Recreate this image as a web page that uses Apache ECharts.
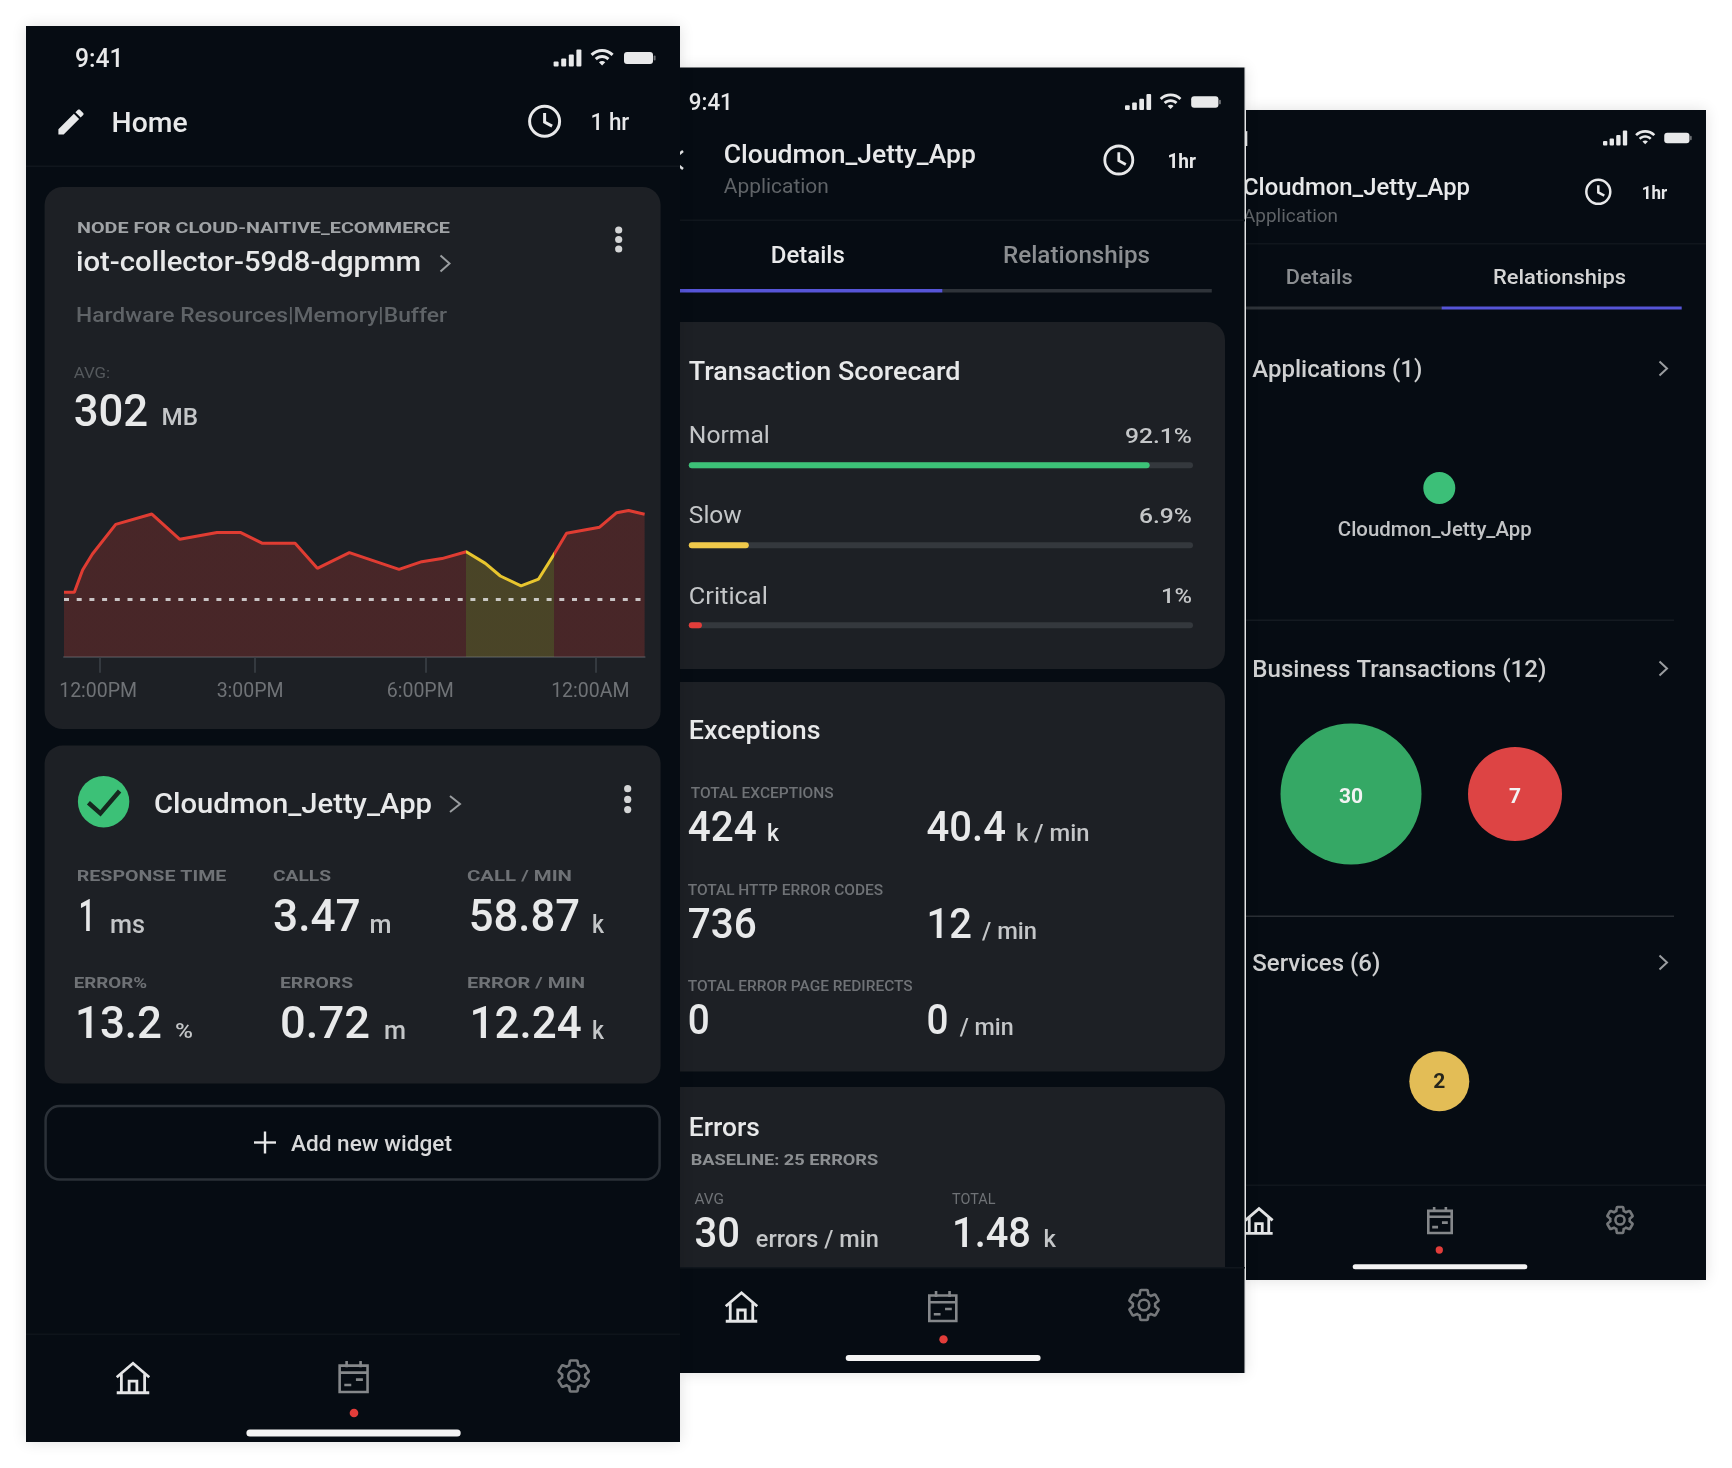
<!DOCTYPE html>
<html>
<head>
<meta charset="utf-8">
<title>Cloudmon mobile screens</title>
<script src="https://cdn.jsdelivr.net/npm/echarts@6/dist/echarts.min.js"></script>
<style>
  html, body { margin: 0; padding: 0; background: #fff; }
  #main { width: 1732px; height: 1468px; filter: blur(0.6px); }
</style>
</head>
<body>
<div id="main"></div>
<script>
// memory line, x is in axis hours
const memoryHours = [11.31, 11.51, 11.67, 11.86, 12.31, 13.01, 13.55, 14.27, 14.73, 15.15, 15.78, 16.21, 16.83, 17.79, 18.23, 18.62, 19.09, 19.46, 19.75, 20.15, 20.49, 20.78, 21.03, 21.67, 22.0, 22.23, 22.54];
const memoryValues = [337, 337, 453, 537, 692, 746, 614, 649, 649, 593, 593, 462, 544, 457, 497, 513, 549, 488, 422, 370, 406, 532, 645, 677, 753, 764, 745];
const memoryAvg = 302;
const slowFrom = 19.09;
const slowTo = 20.78;
const xTickHours = [12, 15, 18.3, 21.6];
const xLabelHours = [11.97, 14.91, 18.2, 21.49];
const xTickLabels = ['12:00PM', '3:00PM', '6:00PM', '12:00AM'];

// transaction scorecard
const scoreNames = ['Normal', 'Slow', 'Critical'];
const scoreTexts = ['92.1%', '6.9%', '1%'];
const scoreFill = [91.4, 11.9, 2.6];

// relationship bubbles
const appNames = ['Cloudmon_Jetty_App'];
const appCounts = [1];
const bizNames = ['Normal', 'Critical'];
const bizCounts = [30, 7];
const serviceNames = ['Slow'];
const serviceCounts = [2];

const GREEN = '#3cc177', YELLOW = '#f0c94a', RED = '#e23d3a';
const bubbleDiameter = { 1: 32, 2: 60, 7: 94, 30: 141 };
const bubbleColor = { 1: '#3cbf78', 2: '#e3bd56', 7: '#dd4444', 30: '#35a865' };

const BG = '#060c13', CARD = '#1d2025', WHITE = '#e8e9ea', SOFT = '#c4c6c8', DIM = '#5f6367', LABEL = '#6f7276';

const measure = document.createElement('canvas').getContext('2d');

// text, optionally squeezed to the width
function T(text, x, y, size, color, weight, w, align) {
    weight = weight || 400;
    const font = weight + ' ' + size + 'px Roboto';
    measure.font = font;
    const sx = w ? w / measure.measureText(text).width : 1;
    return {
        type: 'text', x: x, y: y + size * 0.1 + 0.5, scaleX: sx,
        style: { text: text, font: font, fill: color || WHITE, textAlign: align || 'left', textVerticalAlign: 'middle' }
    };
}
function R(x, y, w, h, fill, r) {
    return { type: 'rect', shape: { x: x, y: y, width: w, height: h, r: r || 0 }, style: { fill: fill } };
}
function chev(x1, x2, cy, h, color) {
    return { type: 'polyline', shape: { points: [[x1, cy - h], [x2, cy], [x1, cy + h]] }, style: { stroke: color || '#9a9da0', lineWidth: 2, fill: null } };
}
function kebab(x, ys) {
    return ys.map(y => ({ type: 'circle', shape: { cx: x, cy: y, r: 3.6 }, style: { fill: '#d4d5d6' } }));
}
function clock(cx, cy, r, lw) {
    return [
        { type: 'circle', shape: { cx: cx, cy: cy, r: r }, style: { fill: null, stroke: WHITE, lineWidth: lw } },
        { type: 'polyline', shape: { points: [[cx, cy - r * 0.55], [cx, cy + r * 0.05], [cx + r * 0.5, cy + r * 0.32]] }, style: { fill: null, stroke: WHITE, lineWidth: lw } }
    ];
}
// icons are 24 unit svg paths registered as shapes
const iconPaths = {
    pencil: 'M3 17.25V21h3.75L17.81 9.94l-3.75-3.75L3 17.25zM20.71 7.04c.39-.39.39-1.02 0-1.41l-2.34-2.34c-.39-.39-1.02-.39-1.41 0l-1.83 1.83 3.75 3.75 1.83-1.83z',
    wifi: 'M1 9l2 2c4.97-4.97 13.03-4.97 18 0l2-2C16.93 2.93 7.08 2.93 1 9zm8 8l3 3 3-3c-1.65-1.66-4.34-1.66-6 0zm-4-4l2 2c2.76-2.76 7.24-2.76 10 0l2-2C15.14 9.14 8.87 9.14 5 13z',
    gear: 'M19.43 12.98c.04-.32.07-.64.07-.98 0-.34-.03-.66-.07-.98l2.11-1.65c.19-.15.24-.42.12-.64l-2-3.46c-.09-.16-.26-.25-.44-.25-.06 0-.12.01-.17.03l-2.49 1c-.52-.4-1.08-.73-1.69-.98l-.38-2.65C14.46 2.18 14.25 2 14 2h-4c-.25 0-.46.18-.49.42l-.38 2.65c-.61.25-1.17.59-1.69.98l-2.49-1c-.06-.02-.12-.03-.18-.03-.17 0-.34.09-.43.25l-2 3.46c-.13.22-.07.49.12.64l2.11 1.65c-.04.32-.07.65-.07.98 0 .33.03.66.07.98l-2.11 1.65c-.19.15-.24.42-.12.64l2 3.46c.09.16.26.25.44.25.06 0 .12-.01.17-.03l2.49-1c.52.4 1.08.73 1.69.98l.38 2.65c.03.24.24.42.49.42h4c.25 0 .46-.18.49-.42l.38-2.65c.61-.25 1.17-.59 1.69-.98l2.49 1c.06.02.12.03.18.03.17 0 .34-.09.43-.25l2-3.46c.12-.22.07-.49-.12-.64l-2.11-1.65zM12 15.5c-1.93 0-3.5-1.57-3.5-3.5s1.57-3.5 3.5-3.5 3.5 1.57 3.5 3.5-1.57 3.5-3.5 3.5z',
    home: 'M1.5 11.5L12 2.5l10.5 9M4.5 9.5V20.5M19.5 9.5V20.5M1.5 21.5H22.5M9.5 21V14h5v7',
    cal: 'M3 5h18v17H3zM3 9.5h18M7.5 2v4M16.5 2v4M6 17.5h4.5M13.5 14h4.5'
};
Object.keys(iconPaths).forEach(k => {
    echarts.graphic.registerShape('icon_' + k, echarts.graphic.extendPath(iconPaths[k], {}));
});
function icon(name, cx, cy, k, style) {
    return { type: 'icon_' + name, x: cx - 12 * k, y: cy - 12 * k, scaleX: k, scaleY: k, style: style };
}

function statusBar(x0, cy, s) {
    const out = [];
    const hs = [5, 8, 12, 17];
    hs.forEach((h, i) => out.push(R(x0 + i * 7.6 * s, cy + (8.5 - h) * s, 5 * s, h * s, WHITE, 1)));
    out.push(icon('wifi', x0 + 48.5 * s, cy - 1, s * 1.05, { fill: WHITE }));
    out.push(R(x0 + 70.4 * s, cy - 6 * s, 29 * s, 12 * s, WHITE, 3));
    out.push(R(x0 + 100 * s, cy - 2.5 * s, 2 * s, 5 * s, '#6d7074', 1));
    return out;
}
function nav(home, cal, gear, k, dot, barX1, barX2, barY, barH) {
    return [
        icon('home', home[0], home[1], k, { fill: null, stroke: '#e4e5e6', lineWidth: 2.8 / k }),
        icon('cal', cal[0], cal[1], k, { fill: null, stroke: '#85888b', lineWidth: 2.6 / k }),
        icon('gear', gear[0], gear[1], k, { fill: null, stroke: '#75787b', lineWidth: 2.6 / k }),
        { type: 'circle', shape: { cx: dot[0], cy: dot[1], r: 4.2 * k / 1.5 }, style: { fill: '#e23d3a' } },
        R(barX1, barY - barH / 2, barX2 - barX1, barH, '#f4f4f4', barH / 2)
    ];
}

// third phone goes first, the others cover its left edge
const phone3 = [
    { type: 'rect', shape: { x: 1246, y: 110, width: 460, height: 1170 }, style: { fill: BG, shadowBlur: 14, shadowColor: 'rgba(0,0,0,0.12)' } },
    T('9:41', 1251, 138, 20, WHITE, 500, 0, 'right'),
    ...statusBar(1603, 138, 0.87),
    T('Cloudmon_Jetty_App', 1243, 186, 24, WHITE, 500, 227),
    T('Application', 1243, 215, 19, DIM, 400, 95),
    ...clock(1598.3, 191.8, 12, 2.5),
    T('1hr', 1641.7, 191.8, 18, WHITE, 700, 25.5),
    R(1246, 243, 460, 1.5, '#10161d'),
    T('Details', 1285.7, 276, 20, '#8b8e91', 500, 67),
    T('Relationships', 1493, 276, 20, '#d5d5d5', 500, 133),
    R(1246, 306.5, 196, 3, '#2e3339'),
    R(1441.7, 306.5, 240, 3, '#5655d7'),
    T('Applications (1)', 1252.3, 368, 23.5, '#cfd0d1', 500, 170),
    chev(1659.5, 1667, 368.5, 7),
    R(1246, 619.5, 428, 1.5, '#141a21'),
    T('Business Transactions (12)', 1252.3, 668, 23.5, '#cfd0d1', 500, 294),
    chev(1659.5, 1667, 668.5, 7),
    R(1246, 915.5, 428, 1.5, '#2a2f35'),
    T('Services (6)', 1252.3, 962.5, 23.5, '#cfd0d1', 500, 128),
    chev(1659.5, 1667, 962.5, 7),
    R(1246, 1184.5, 460, 1.5, '#10161d'),
    ...nav([1259, 1221], [1440, 1220], [1620, 1220], 1.3, [1439.3, 1250], 1352.7, 1527.3, 1266.8, 5),
    R(1244.5, 67, 1.5, 1306, '#f2f3f4')
];

const phone2 = [
    { type: 'rect', shape: { x: 680, y: 67.5, width: 564.5, height: 1305.5 }, style: { fill: BG, shadowBlur: 14, shadowColor: 'rgba(0,0,0,0.12)' } },
    T('9:41', 688.8, 101.6, 23, WHITE, 500, 44),
    ...statusBar(1125, 102, 0.94),
    { type: 'polyline', shape: { points: [[683, 151], [672, 160], [683, 169]] }, style: { fill: null, stroke: WHITE, lineWidth: 2.5 } },
    T('Cloudmon_Jetty_App', 723.8, 153, 26, WHITE, 500, 252),
    T('Application', 723.8, 185, 21, DIM, 400, 105),
    ...clock(1118.8, 160, 14, 2.8),
    T('1hr', 1167.4, 160, 20, WHITE, 700, 28.6),
    R(680, 219.5, 565, 1.5, '#10161d'),
    T('Details', 770.8, 254.7, 23, WHITE, 500, 74),
    T('Relationships', 1003, 254.7, 23, '#8b8e91', 500, 147),
    R(942.4, 289, 269.4, 3.5, '#2e3339'),
    R(680, 289, 262.4, 3.5, '#5655d7'),

    R(680, 322, 545, 347, CARD, [0, 18, 18, 0]),
    T('Transaction Scorecard', 688.8, 370, 26, WHITE, 500, 271.6),
    ...scoreNames.map((name, i) => T(name, 688.8, 434.7 + i * 80.2, 23, SOFT, 400, [81, 53, 79][i])),
    ...scoreTexts.map((s, i) => T(s, 1192, 434.7 + i * 80.2, 21, SOFT, 500, [67, 53, 31][i], 'right')),

    R(680, 682, 545, 389.5, CARD, [0, 18, 18, 0]),
    T('Exceptions', 688.8, 729, 26, WHITE, 500, 131.7),
    T('TOTAL EXCEPTIONS', 690.7, 792.5, 14, LABEL, 500, 143),
    T('424', 687.7, 826, 42, WHITE, 500, 69),
    T('k', 767, 832.5, 24, WHITE, 500, 12),
    T('40.4', 926.6, 826, 42, WHITE, 500, 79.4),
    T('k / min', 1016, 832.5, 24, SOFT, 500, 73.5),
    T('TOTAL HTTP ERROR CODES', 687.7, 889.8, 14, LABEL, 500, 195.5),
    T('736', 687.7, 923, 42, WHITE, 500, 69),
    T('12', 926.6, 923, 42, WHITE, 500, 45.4),
    T('/ min', 982, 930, 24, SOFT, 500, 55),
    T('TOTAL ERROR PAGE REDIRECTS', 687.7, 985.8, 14, LABEL, 500, 225),
    T('0', 687.7, 1018.4, 42, WHITE, 500, 22),
    T('0', 926.6, 1018.4, 42, WHITE, 500, 22),
    T('/ min', 959.7, 1026, 24, SOFT, 500, 54),

    R(680, 1087, 545, 181, CARD, [0, 18, 0, 0]),
    T('Errors', 688.8, 1126.4, 26, WHITE, 500, 71),
    T('BASELINE: 25 ERRORS', 690.7, 1160, 14, '#8c8f92', 700, 187.5),
    T('AVG', 694.5, 1199, 14, LABEL, 400, 29.5),
    T('TOTAL', 952, 1199, 14, LABEL, 400, 43.4),
    T('30', 694.5, 1232, 42, WHITE, 500, 45.5),
    T('errors / min', 755.8, 1238.5, 24, SOFT, 500, 123),
    T('1.48', 952, 1232, 42, WHITE, 500, 79),
    T('k', 1043.6, 1238.5, 24, SOFT, 500, 12.4),
    R(680, 1267, 565, 1.5, '#10161d'),
    ...nav([741.5, 1307], [942.8, 1306], [1144, 1305], 1.5, [943.5, 1339.4], 845.7, 1040.6, 1358, 6)
];

const phone1 = [
    { type: 'rect', shape: { x: 26, y: 26, width: 654, height: 1416 }, style: { fill: BG, shadowBlur: 14, shadowColor: 'rgba(0,0,0,0.12)' } },
    T('9:41', 75, 58, 25, WHITE, 500, 48.6),
    ...statusBar(553.6, 58, 1),
    icon('pencil', 71, 122, 1.4, { fill: WHITE }),
    T('Home', 111.6, 122, 28, WHITE, 500, 76),
    ...clock(544.6, 121.3, 15, 3),
    T('1 hr', 590.6, 121.5, 23, WHITE, 500, 38.7),
    R(26, 165.5, 654, 1.5, '#10161d'),

    R(44.6, 187, 616, 542, CARD, 18),
    T('NODE FOR CLOUD-NAITIVE_ECOMMERCE', 77, 227, 15, '#a0a3a6', 700, 373),
    T('iot-collector-59d8-dgpmm', 76, 261, 28, WHITE, 500, 345),
    chev(440.5, 449.5, 263.5, 8),
    ...kebab(618.7, [230, 239.5, 249]),
    T('Hardware Resources|Memory|Buffer', 76, 314, 21, DIM, 500, 371),
    T('AVG:', 73.7, 373, 14, '#55595d', 400, 36.5),
    T('302', 73.7, 409.6, 45, WHITE, 500, 74.5),
    T('MB', 161.6, 416.5, 24, SOFT, 500, 36.5),

    R(44.6, 745.6, 616, 338, CARD, 18),
    { type: 'circle', shape: { cx: 103.6, cy: 801.7, r: 25.7 }, style: { fill: GREEN } },
    { type: 'polyline', shape: { points: [[88.4, 802.7], [100.4, 813.4], [119.6, 791]] }, style: { fill: null, stroke: '#16281f', lineWidth: 4.5 } },
    T('Cloudmon_Jetty_App', 154, 802.7, 28, WHITE, 500, 278),
    chev(450, 460, 804, 8),
    ...kebab(627.7, [788.7, 799.4, 809.6]),

    T('RESPONSE TIME', 76.8, 875.6, 15, LABEL, 700, 149.5),
    T('CALLS', 273, 875.6, 15, LABEL, 700, 58),
    T('CALL / MIN', 467, 875.6, 15, LABEL, 700, 105),
    T('1', 78.6, 915.5, 44, WHITE, 500, 17),
    T('ms', 110, 923.5, 25, SOFT, 500, 35),
    T('3.47', 273, 915.5, 44, WHITE, 500, 87.7),
    T('m', 369.6, 923.5, 25, SOFT, 500, 22),
    T('58.87', 468.7, 915.5, 44, WHITE, 500, 111.3),
    T('k', 592, 923.5, 25, SOFT, 500, 12),

    T('ERROR%', 73.7, 982.3, 15, LABEL, 700, 73.3),
    T('ERRORS', 280, 982.3, 15, LABEL, 700, 73),
    T('ERROR / MIN', 467, 982.3, 15, LABEL, 700, 118),
    T('13.2', 75, 1021.8, 44, WHITE, 500, 87),
    T('%', 175, 1030, 21, SOFT, 500, 18),
    T('0.72', 280, 1021.8, 44, WHITE, 500, 90),
    T('m', 384, 1030, 25, SOFT, 500, 22),
    T('12.24', 469.6, 1021.8, 44, WHITE, 500, 112),
    T('k', 592, 1030, 25, SOFT, 500, 12),

    { type: 'rect', shape: { x: 45.6, y: 1106, width: 614, height: 73.5, r: 14 }, style: { fill: null, stroke: '#2b3138', lineWidth: 2.5 } },
    R(254, 1141.3, 22, 2.4, WHITE),
    R(263.8, 1131.5, 2.4, 22, WHITE),
    T('Add new widget', 291, 1143, 22, '#d8d9da', 500, 161),
    R(26, 1333.5, 654, 1.5, '#0e141b'),
    ...nav([133, 1378], [353.6, 1376.5], [573.7, 1376], 1.55, [354, 1413], 246.4, 460.7, 1433, 7)
];

function scatterSeries(names, counts, gridIndex, labelOpt) {
    return {
        type: 'scatter',
        xAxisIndex: gridIndex,
        yAxisIndex: gridIndex,
        data: names.map((n, i) => ({ name: n, value: [i, 0, counts[i]], itemStyle: { color: bubbleColor[counts[i]], opacity: 1 } })),
        symbolSize: v => bubbleDiameter[v[2]],
        label: labelOpt
    };
}

function initChart() {
    const myChart = echarts.init(document.getElementById('main'), null, { renderer: 'canvas' });
    const hidden = { show: false };
    const option = {
        animation: false,
        backgroundColor: '#fff',
        graphic: { elements: [...phone3, ...phone2, ...phone1] },
        grid: [
            { left: 64, top: 503.7, width: 580.6, height: 153 },
            { left: 688.8, top: 425.3, width: 504.2, height: 240 },
            { left: 1389.3, top: 458, width: 100, height: 60 },
            { left: 1269, top: 714, width: 328, height: 160 },
            { left: 1389.3, top: 1041.3, width: 100, height: 80 }
        ],
        xAxis: [
            {
                type: 'value', gridIndex: 0, min: 11.31, max: 22.54,
                splitLine: hidden,
                axisLine: { show: true, lineStyle: { color: '#3d4248', width: 2 } },
                axisTick: { show: true, customValues: xTickHours, length: 16, lineStyle: { color: '#3d4248', width: 1.5 } },
                axisLabel: {
                    customValues: xLabelHours, margin: 25, color: '#6f7276', fontSize: 19.5, fontFamily: 'Roboto',
                    formatter: (v) => xTickLabels[xLabelHours.indexOf(v)]
                }
            },
            { type: 'value', gridIndex: 1, min: 0, max: 100, show: false },
            { type: 'category', gridIndex: 2, data: appNames, show: false },
            { type: 'category', gridIndex: 3, data: bizNames, show: false },
            { type: 'category', gridIndex: 4, data: serviceNames, show: false }
        ],
        yAxis: [
            { type: 'value', gridIndex: 0, min: 0, max: 800, show: false },
            { type: 'category', gridIndex: 1, data: scoreNames, inverse: true, show: false },
            { type: 'category', gridIndex: 2, data: ['row'], show: false },
            { type: 'category', gridIndex: 3, data: ['row'], show: false },
            { type: 'category', gridIndex: 4, data: ['row'], show: false }
        ],
        visualMap: {
            show: false, type: 'piecewise', seriesIndex: 0, dimension: 0,
            pieces: [
                { lt: slowFrom, color: '#e03c32' },
                { gte: slowFrom, lte: slowTo, color: '#e8c52e' },
                { gt: slowTo, color: '#e03c32' }
            ]
        },
        series: [
            {
                type: 'line',
                xAxisIndex: 0, yAxisIndex: 0,
                data: memoryHours.map((h, i) => [h, memoryValues[i]]),
                showSymbol: false,
                lineStyle: { width: 3 },
                areaStyle: { opacity: 0.22 },
                markLine: {
                    silent: true, symbol: 'none', animation: false,
                    label: { show: false },
                    lineStyle: { color: 'rgba(225,225,225,0.85)', type: [5, 7.7], width: 3 },
                    data: [{ yAxis: memoryAvg }]
                }
            },
            {
                type: 'bar',
                xAxisIndex: 1, yAxisIndex: 1,
                barWidth: 6,
                showBackground: true,
                backgroundStyle: { color: '#34383d', borderRadius: 3 },
                data: scoreFill.map((v, i) => ({ value: v, itemStyle: { color: [GREEN, YELLOW, RED][i], borderRadius: 3 } }))
            },
            scatterSeries(appNames, appCounts, 2, {
                show: true, position: 'bottom', distance: 15, offset: [-4.5, 2], formatter: '{b}',
                color: '#c2c4c6', fontSize: 20.4, fontWeight: 500, fontFamily: 'Roboto'
            }),
            scatterSeries(bizNames, bizCounts, 3, {
                show: true, position: 'inside', offset: [0, 3.5], formatter: p => p.value[2],
                color: '#f2f3f3', fontSize: 21, fontWeight: 700, fontFamily: 'Roboto'
            }),
            scatterSeries(serviceNames, serviceCounts, 4, {
                show: true, position: 'inside', offset: [0, 1.5], formatter: p => p.value[2],
                color: '#26261c', fontSize: 21, fontWeight: 700, fontFamily: 'Roboto'
            })
        ]
    };
    myChart.setOption(option);
}

window.onload = initChart;
</script>
</body>
</html>
